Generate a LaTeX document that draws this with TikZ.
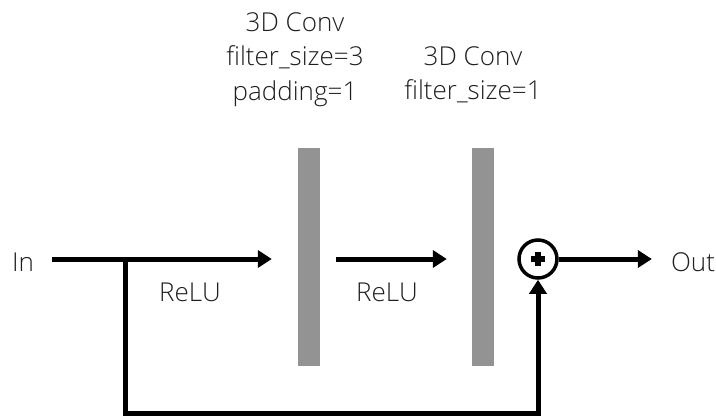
\documentclass[tikz,border=0pt]{standalone}
\usepackage{fontspec}
\setmainfont{Open Sans Light}
\usetikzlibrary{arrows.meta, positioning, calc}
\definecolor{bargray}{HTML}{939393}
\definecolor{txt}{HTML}{1E1E1E}

\begin{document}
\begin{tikzpicture}[x=1pt, y=-1pt]
    \tikzstyle{bar}=[rectangle, fill=bargray, minimum width=22pt,
                     minimum height=218pt, inner sep=0pt]
    \tikzstyle{lbl}=[font=\fontsize{26}{34.5}\selectfont, text=txt,
                     align=center, inner sep=0pt]
    \tikzstyle{arr}=[-{Triangle[length=14pt, width=17pt]}, line width=5pt]
    \tikzstyle{wire}=[line width=5.5pt]

    \useasboundingbox (0,0) rectangle (716,416);

    % layers
    \node[bar] (conv1) at (309,257) {};
    \node[bar] (conv2) at (483,257) {};
    \node[circle, draw, line width=3.5pt, minimum size=38pt, inner sep=0pt] (add) at (538,259) {};
    \draw[wire] ([xshift=-7pt]add.center) -- ([xshift=7pt]add.center);
    \draw[wire] ([yshift=-7pt]add.center) -- ([yshift=7pt]add.center);

    % labels
    \node[lbl, anchor=north] (spec1) at (295,12) {3D Conv\\filter\_size=3\\padding=1};
    \node[lbl, anchor=north] (spec2) at (473,46) {3D Conv\\filter\_size=1};
    \node[lbl] (in)    at (23,262)  {In};
    \node[lbl] (out)   at (693,262) {Out};
    \node[lbl] (relu1) at (190,292) {ReLU};
    \node[lbl] (relu2) at (387,292) {ReLU};

    \coordinate (split) at (125,259);
    \coordinate (loop)  at (125,413);

    \draw[arr, shorten <=18pt, shorten >=26pt] (in.east |- split) -- (split -| conv1.west);
    \draw[arr, shorten <=16pt, shorten >=25pt] (conv1.east |- split) -- (split -| conv2.west);
    \draw[arr, shorten >=19pt] (add.east) -- (out.west |- add);
    \draw[arr] (split) -- (loop) -| (add.south);
\end{tikzpicture}
\end{document}
